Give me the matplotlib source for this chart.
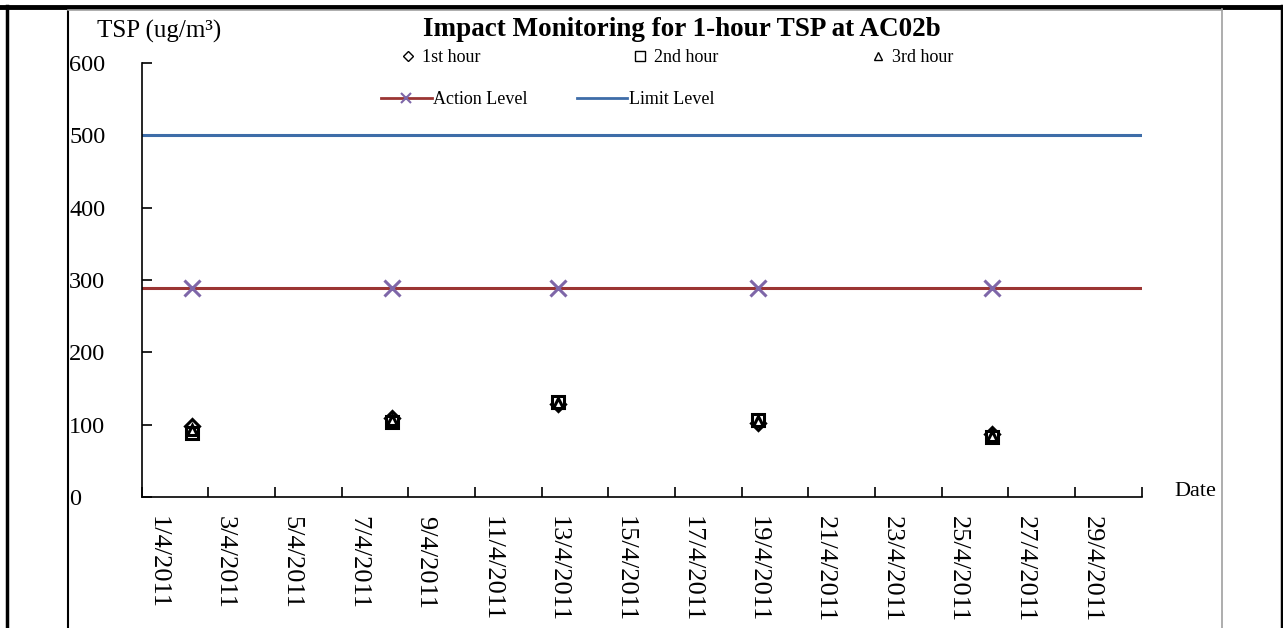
import numpy as np
import matplotlib.pyplot as plt
from matplotlib.lines import Line2D

plt.rcParams['font.family'] = ['Liberation Serif', 'DejaVu Serif']

W, H = 1283, 628

# sampling days in April 2011
days = [2, 8, 13, 19, 26]
hour1 = [98, 109, 128, 102, 87]
hour2 = [89, 104, 131, 107, 83]
hour3 = [93, 106, 130, 105, 85]

action_level = 288.8
limit_level = 500

tick_days = list(range(1, 30, 2))
tick_labels = [f'{d}/4/2011' for d in tick_days]
y_ticks = [0, 100, 200, 300, 400, 500, 600]


def fx(x):
    return x / W


def fy(y):
    return 1 - y / H


fig = plt.figure(figsize=(W / 100, H / 100), dpi=100)
ax = fig.add_axes([fx(141.5), fy(497), 1000 / W, 434 / H])

# each day occupies one unit, points sit in the middle of the day
x = np.array(days) - 0.5
ax.plot(x, hour1, linestyle='none', marker='D', markersize=7, mfc='white', mec='black', mew=2.2)
ax.plot(x, hour2, linestyle='none', marker='s', markersize=9, mfc='white', mec='black', mew=2.2)
ax.plot(x, hour3, linestyle='none', marker='^', markersize=7, mfc='white', mec='black', mew=2.2)

ax.axhline(limit_level, color='#3E6DA8', linewidth=2.2)
ax.axhline(action_level, color='#9B3533', linewidth=2.2)
ax.plot(x, [action_level] * len(x), linestyle='none', marker='x', markersize=11,
        mec='#7E66A8', mew=2.2)

ax.set_xlim(0, 30)
ax.set_ylim(0, 600)
for s in ['top', 'right']:
    ax.spines[s].set_visible(False)
for s in ['left', 'bottom']:
    ax.spines[s].set_linewidth(1.2)

ax.set_xticks(range(0, 31, 2))
ax.set_xticklabels([])
ax.set_xticks(np.array(tick_days) - 0.5, minor=True)
ax.set_xticklabels(tick_labels, minor=True, rotation=-90, fontsize=19)
ax.tick_params(axis='x', which='major', direction='in', length=7, width=1.2)
ax.tick_params(axis='x', which='minor', length=0, pad=14)

ax.set_yticks(y_ticks)
ax.tick_params(axis='y', direction='in', length=7, width=1.2, labelsize=17.5, pad=52)
for lbl in ax.get_yticklabels():
    lbl.set_horizontalalignment('left')

fig.text(fx(97), fy(38), 'TSP (ug/m³)', fontsize=18, va='baseline', ha='left')
fig.text(fx(1174), fy(492), 'Date', fontsize=16, va='center', ha='left')
fig.text(fx(682), fy(30), 'Impact Monitoring for 1-hour TSP at AC02b', fontsize=19.5,
         fontweight='bold', va='center', ha='center')

h1 = [Line2D([], [], linestyle='none', marker='D', markersize=5, mfc='white', mec='black', mew=1),
      Line2D([], [], linestyle='none', marker='s', markersize=7, mfc='white', mec='black', mew=1),
      Line2D([], [], linestyle='none', marker='^', markersize=6, mfc='white', mec='black', mew=1)]
leg1 = fig.legend(h1, ['1st hour', '2nd hour', '3rd hour'], loc='center left',
                  bbox_to_anchor=(fx(390), fy(58)), ncol=3, frameon=False, fontsize=13,
                  handlelength=1.0, handletextpad=0.3, columnspacing=8.3, borderpad=0)
h2 = [Line2D([], [], color='#9B3533', linewidth=2, marker='x', markersize=7, mec='#7E66A8', mew=1.5),
      Line2D([], [], color='#3E6DA8', linewidth=2)]
leg2 = fig.legend(h2, ['Action Level', 'Limit Level'], loc='center left',
                  bbox_to_anchor=(fx(372), fy(100)), ncol=2, frameon=False, fontsize=13,
                  handlelength=2.8, handletextpad=0.1, columnspacing=2.7, borderpad=0)

# surrounding table-cell frame
frame = [((0, 1283), (6.5, 6.5), 'black', 3.5),
         ((7, 7), (6, 628), 'black', 2.5),
         ((1281.5, 1281.5), (6, 628), 'black', 2.5),
         ((68, 68), (9, 628), 'black', 1.5),
         ((1222, 1222), (9, 628), '#a0a0a0', 1.2),
         ((68, 1222), (9.5, 9.5), '#a0a0a0', 1.2)]
for xs, ys, c, lw in frame:
    fig.add_artist(Line2D([fx(v) for v in xs], [fy(v) for v in ys], color=c, linewidth=lw))

plt.savefig('out.png', dpi=100)
